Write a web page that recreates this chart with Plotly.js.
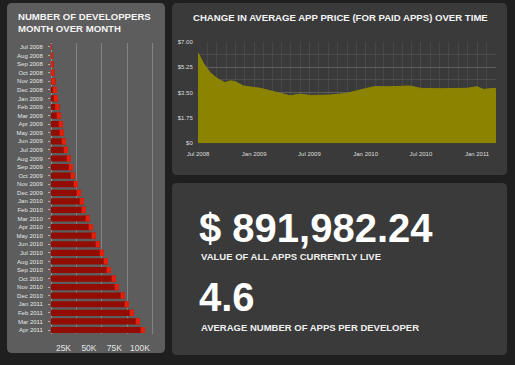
<!DOCTYPE html>
<html>
<head>
<meta charset="utf-8">
<script src="https://cdn.plot.ly/plotly-3.0.1.min.js"></script>
<style>html,body{margin:0;padding:0;background:#1f1f1f;}#chart{width:515px;height:365px;}</style>
</head>
<body>
<div id="chart"></div>
<script>
// ---- data ----
const months = ['Jul 2008','Aug 2008','Sep 2008','Oct 2008','Nov 2008','Dec 2008',
  'Jan 2009','Feb 2009','Mar 2009','Apr 2009','May 2009','Jun 2009','Jul 2009','Aug 2009','Sep 2009','Oct 2009','Nov 2009','Dec 2009',
  'Jan 2010','Feb 2010','Mar 2010','Apr 2010','May 2010','Jun 2010','Jul 2010','Aug 2010','Sep 2010','Oct 2010','Nov 2010','Dec 2010',
  'Jan 2011','Feb 2011','Mar 2011','Apr 2011'];
const developers = [1000,2000,2500,3400,4400,5900,
  6900,8300,9800,11800,12700,14700,16700,19600,21600,23500,26500,29400,
  32400,34300,38200,41200,44100,48000,52000,55900,58800,63700,66700,72500,
  76500,81400,87300,92200];
const devTickVals = [25000,50000,75000,100000];
const devTickText = ['25K','50K','75K','100K'];

const priceDates = ['2008-07-01','2008-07-19','2008-08-10','2008-09-01','2008-09-28','2008-10-15','2008-10-31','2008-11-27',
  '2009-01-21','2009-03-05','2009-04-29','2009-06-01','2009-07-04','2009-09-07','2009-11-01','2009-12-03',
  '2010-01-27','2010-03-22','2010-05-27','2010-06-29','2010-09-02','2010-11-29','2010-12-31','2011-01-22','2011-03-04'];
const avgPrice = [6.26,5.52,4.88,4.49,4.19,4.32,4.26,3.96,
  3.80,3.57,3.29,3.40,3.31,3.34,3.45,3.63,
  3.91,3.91,3.96,3.80,3.77,3.80,3.91,3.73,3.80];
const priceTickVals = [0,1.75,3.5,5.25,7];
const priceTickText = ['$0','$1.75','$3.50','$5.25','$7.00'];

const leftTitle = 'NUMBER OF DEVELOPPERS<br>MONTH OVER MONTH';
const rightTitle = 'CHANGE IN AVERAGE APP PRICE (FOR PAID APPS) OVER TIME';
const totalValue = '$ 891,982.24';
const totalValueLabel = 'VALUE OF ALL APPS CURRENTLY LIVE';
const avgApps = '4.6';
const avgAppsLabel = 'AVERAGE NUMBER OF APPS PER DEVELOPER';

// ---- helpers ----
const W = 515, H = 365;
const px = x => x / W;
const py = y => 1 - y / H;
function roundRect(x0, y0, x1, y1, r) {
  const rx = r / W, ry = r / H;
  const a = px(x0), b = px(x1), t = py(y0), u = py(y1);
  return `M${a+rx},${t} L${b-rx},${t} Q${b},${t} ${b},${t-ry} L${b},${u+ry} Q${b},${u} ${b-rx},${u} ` +
         `L${a+rx},${u} Q${a},${u} ${a},${u+ry} L${a},${t-ry} Q${a},${t} ${a+rx},${t} Z`;
}

const TIP = 4200;
const tipBase = developers.map(v => Math.max(0, v - TIP));
const tipLen = developers.map((v, i) => v - tipBase[i]);

const sans = '"Liberation Sans", Arial, Helvetica, sans-serif';

const traces = [
  {type:'bar', orientation:'h', y:months, x:developers, xaxis:'x', yaxis:'y',
   marker:{color:'#930c02'}, width:0.72, hoverinfo:'skip'},
  {type:'bar', orientation:'h', y:months, x:tipLen, base:tipBase, xaxis:'x', yaxis:'y',
   marker:{color:'#e2210d'}, width:0.72, hoverinfo:'skip'},
  {type:'scatter', mode:'lines', x:priceDates, y:avgPrice, xaxis:'x2', yaxis:'y2',
   fill:'tozeroy', fillcolor:'#8c8400', line:{color:'#8c8400', width:1}, hoverinfo:'skip'}
];

const layout = {
  width: W, height: H,
  margin: {l:0, r:0, t:0, b:0, pad:0},
  paper_bgcolor: '#1f1f1f',
  plot_bgcolor: 'rgba(0,0,0,0)',
  showlegend: false,
  barmode: 'overlay',
  xaxis: {
    domain:[px(51), px(158)], range:[0,105000], anchor:'y',
    tickvals: devTickVals, ticktext: devTickText,
    showgrid:true, gridcolor:'#838383', gridwidth:1,
    zeroline:true, zerolinecolor:'#9a9a9a', zerolinewidth:1,
    showline:false, ticks:'outside', ticklen:5, tickcolor:'rgba(0,0,0,0)',
    ticklabelshift:-13,
    tickfont:{family:sans, size:8.5, color:'#e4e4e4'}, fixedrange:true
  },
  yaxis: {
    domain:[py(334.3), py(42.7)], anchor:'x', type:'category',
    categoryorder:'array', categoryarray: months, autorange:'reversed',
    showgrid:false, zeroline:false, showline:false,
    ticks:'outside', ticklen:2, tickcolor:'#b0b0b0', ticklabelstandoff:4,
    tickfont:{family:sans, size:6, color:'#e6e6e6'}, fixedrange:true
  },
  xaxis2: {
    domain:[px(198), px(496)], anchor:'y2', type:'date',
    range:['2008-07-01','2011-03-04'],
    tick0:'2008-07-01', dtick:'M6', tickformat:'%b %Y',
    showgrid:true, gridcolor:'#4a4a4a', gridwidth:1,
    minor:{dtick:'M1', showgrid:true, gridcolor:'#474747', gridwidth:1},
    zeroline:false, showline:false,
    ticks:'outside', ticklen:4, tickcolor:'rgba(0,0,0,0)',
    tickfont:{family:sans, size:6, color:'#dedede'}, fixedrange:true
  },
  yaxis2: {
    domain:[py(143.3), py(42)], anchor:'x2', range:[0,7],
    tickvals: priceTickVals, ticktext: priceTickText,
    showgrid:true, gridcolor:'#5e5e5e', gridwidth:1,
    minor:{tickvals:[0.875,2.625,4.375,6.125], showgrid:true, gridcolor:'#4c4c4c', gridwidth:1},
    zeroline:false, showline:false,
    ticks:'outside', ticklen:3, tickcolor:'rgba(0,0,0,0)',
    tickfont:{family:sans, size:6, color:'#dedede'}, fixedrange:true
  },
  shapes: [
    {type:'path', xref:'paper', yref:'paper', layer:'below', path: roundRect(7,3,165,353,5),
     fillcolor:'#5d5d5d', line:{width:0}},
    {type:'path', xref:'paper', yref:'paper', layer:'below', path: roundRect(172,3,507,175,5),
     fillcolor:'#3a3a3a', line:{width:0}},
    {type:'path', xref:'paper', yref:'paper', layer:'below', path: roundRect(172,183,507,355,5),
     fillcolor:'#3a3a3a', line:{width:0}}
  ],
  annotations: [
    {text:leftTitle, xref:'paper', yref:'paper', x:px(16), y:py(23), xanchor:'left', yanchor:'middle',
     align:'left', showarrow:false, font:{family:sans, size:9.6, color:'#f4f4f4', weight:'bold'}},
    {text:rightTitle, xref:'paper', yref:'paper', x:px(340), y:py(17), xanchor:'center', yanchor:'middle',
     showarrow:false, font:{family:sans, size:9.6, color:'#f4f4f4', weight:'bold'}},
    {text:totalValue, xref:'paper', yref:'paper', x:px(197), y:py(228), xanchor:'left', yanchor:'middle',
     showarrow:false, font:{family:sans, size:40, color:'#ffffff', weight:'bold'}},
    {text:totalValueLabel, xref:'paper', yref:'paper', x:px(199), y:py(256), xanchor:'left', yanchor:'middle',
     showarrow:false, font:{family:sans, size:9.5, color:'#f0f0f0', weight:'bold'}},
    {text:avgApps, xref:'paper', yref:'paper', x:px(197), y:py(297), xanchor:'left', yanchor:'middle',
     showarrow:false, font:{family:sans, size:40, color:'#ffffff', weight:'bold'}},
    {text:avgAppsLabel, xref:'paper', yref:'paper', x:px(199), y:py(327), xanchor:'left', yanchor:'middle',
     showarrow:false, font:{family:sans, size:9.5, color:'#f0f0f0', weight:'bold'}}
  ]
};

Plotly.newPlot('chart', traces, layout, {staticPlot:true, displayModeBar:false});
</script>
</body>
</html>
